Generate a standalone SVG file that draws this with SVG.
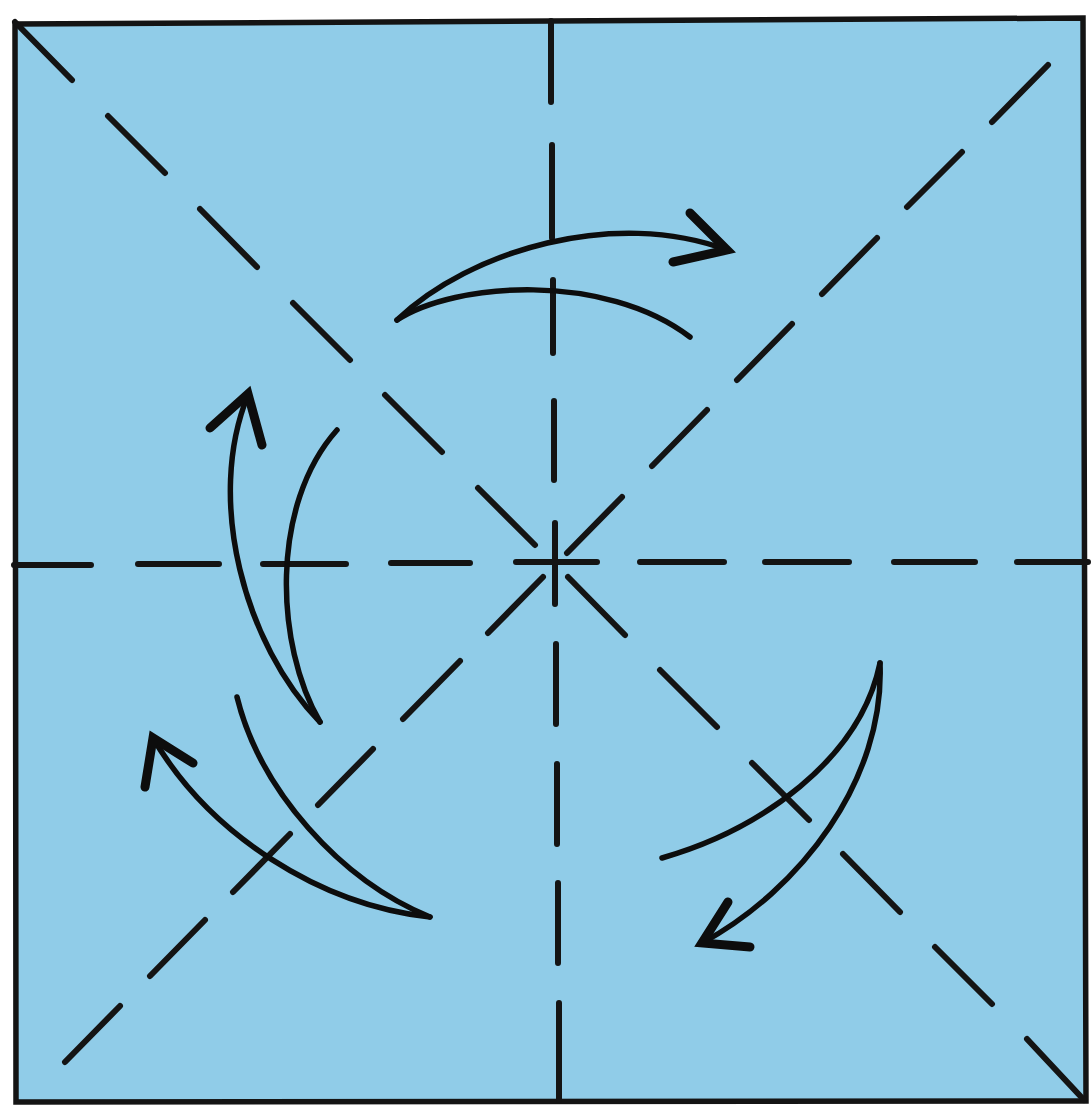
<svg xmlns="http://www.w3.org/2000/svg" width="1091" height="1108" viewBox="0 0 1091 1108">
<style>
.crease{stroke:#141414;stroke-width:6;stroke-linecap:round;fill:none}
.arc{stroke:#0d0d0d;stroke-width:5.5;stroke-linecap:round;stroke-linejoin:round;fill:none}
.head{stroke:#0d0d0d;stroke-width:9;stroke-linecap:round;stroke-linejoin:miter;fill:none}
</style>
<rect x="0" y="0" width="1091" height="1108" fill="#ffffff"/>
<polygon points="15,24 1083,18 1086,1101 16,1102" fill="#90cce8" stroke="#141414" stroke-width="5.5"/>
<g id="creases">
<path class="crease" d="M551,21V102M552,145V238M553,280V353M554,401V480M555,523V604M556,644V724M557,764V844M558,883V963M559,1003V1100"/>
<path class="crease" d="M14,565H91M138,564H219M263,564H346M391,563H470M516,562H597M640,562H724M765,562H849M894,562H975M1017,562H1088"/>
<path class="crease" d="M15,22L72,80M108,116L165,173M200,209L257,267M293,303L350,360M385,395L442,452M478,488L535,545M568,577L625,635M660,670L717,727M752,763L809,820M843,854L900,912M935,947L992,1004M1027,1039L1084,1100"/>
<path class="crease" d="M65,1062L120,1006M150,976L205,920M233,892L290,834M318,805L373,749M403,719L460,661M488,633L543,577M567,553L622,497M652,466L707,410M737,380L792,324M822,294L877,238M907,207L962,152M992,122L1048,65"/>
</g>
<g id="arrow-top">
<path class="arc" d="M397,320C470,250 615,208 727,250"/>
<path class="head" d="M690,213L727,250L673,262"/>
<path class="arc" d="M397,320C455,282 605,272 690,337"/>
</g>
<g id="arrow-left">
<path class="arc" d="M320,722C245,645 205,500 248,395"/>
<path class="head" d="M210,428L248,394L262,445"/>
<path class="arc" d="M320,722C275,645 270,505 337,430"/>
</g>
<g id="arrow-bottom-left">
<path class="arc" d="M430,917C320,905 210,835 153,738"/>
<path class="head" d="M193,763L153,738L145,787"/>
<path class="arc" d="M430,917C340,880 260,790 237,697"/>
</g>
<g id="arrow-bottom-right">
<path class="arc" d="M880,663C885,780 800,890 702,943"/>
<path class="head" d="M728,902L702,943L750,947"/>
<path class="arc" d="M880,663C860,760 760,830 662,858"/>
</g>
</svg>
